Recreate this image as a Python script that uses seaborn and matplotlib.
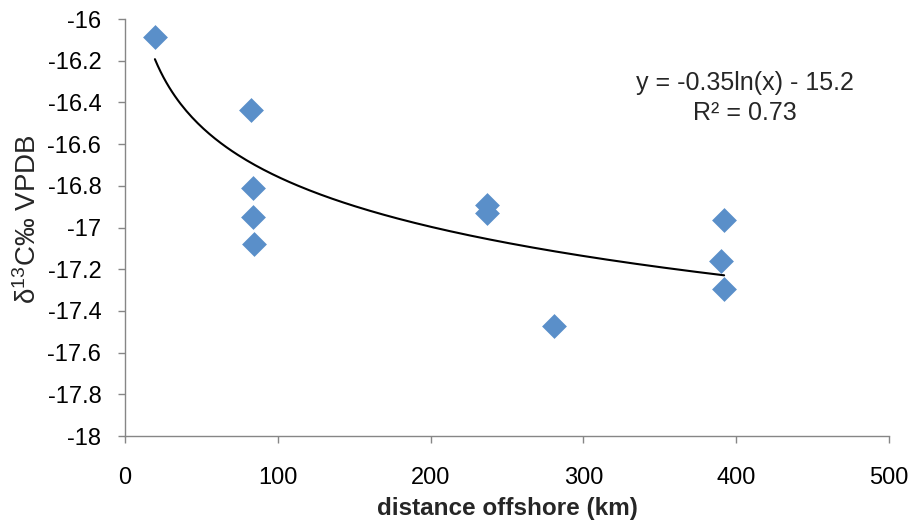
import numpy as np
import pandas as pd
import matplotlib
matplotlib.use("Agg")
import matplotlib.pyplot as plt
import seaborn as sns

# ----------------------------------------------------------------------
# Data
# ----------------------------------------------------------------------
distance_km = [19.6, 82.2, 84.0, 84.0, 84.6, 236.7, 236.7, 281.0, 392.0, 389.8, 392.0]
d13c = [-16.085, -16.436, -16.81, -16.95, -17.08, -16.89, -16.93, -17.472, -16.965, -17.16, -17.294]

# trendline as printed on the chart (Excel log fit)
trend_slope = -0.346
trend_intercept = -15.163
trend_label = "y = -0.35ln(x) - 15.2"
r2_label = "R² = 0.73"

x_ticks = [0, 100, 200, 300, 400, 500]
y_ticks = [-18, -17.8, -17.6, -17.4, -17.2, -17, -16.8, -16.6, -16.4, -16.2, -16]

df = pd.DataFrame({"distance": distance_km, "d13c": d13c})

x_fit = np.linspace(min(distance_km), max(distance_km), 200)
fit_df = pd.DataFrame({"distance": x_fit,
                       "d13c": trend_slope * np.log(x_fit) + trend_intercept})

sns.set_style("white")
plt.rcParams["font.family"] = ["Liberation Sans", "DejaVu Sans"]
plt.rcParams["mathtext.fontset"] = "custom"
plt.rcParams["mathtext.rm"] = "Liberation Sans"
plt.rcParams["mathtext.it"] = "Liberation Sans"

fig = plt.figure(figsize=(9.12, 5.21), dpi=100)
ax = fig.add_axes([0.137, 0.163, 0.838, 0.8005])

sns.lineplot(data=fit_df, x="distance", y="d13c", ax=ax, color="black", linewidth=1.5)
sns.scatterplot(data=df, x="distance", y="d13c", ax=ax, marker="D", s=160,
                color="#5A8FC9", linewidth=0, zorder=3)

ax.set_xlim(0, 500)
ax.set_ylim(-18, -16)
ax.set_xticks(x_ticks)
ax.set_yticks(y_ticks)
ax.set_yticklabels([f"{v:g}" for v in y_ticks])

for side in ["top", "right"]:
    ax.spines[side].set_visible(False)
for side in ["left", "bottom"]:
    ax.spines[side].set_color("#868686")
    ax.spines[side].set_linewidth(1.0)

ax.tick_params(axis="both", which="major", direction="out", length=5, width=1,
               color="#868686", labelcolor="black", bottom=True, left=True)
ax.tick_params(axis="x", pad=17, labelsize=17)
ax.tick_params(axis="y", pad=12, labelsize=17)

ax.set_xlabel("distance offshore (km)", fontsize=17.5, fontweight="bold")
ax.set_ylabel("δ$^{13}$C‰ VPDB", fontsize=20)
ax.xaxis.set_label_coords(0.5, -0.147)
ax.yaxis.set_label_coords(-0.108, 0.52)

ax.text(0.811, 0.846, trend_label, transform=ax.transAxes, ha="center", va="center", fontsize=18)
ax.text(0.811, 0.774, r2_label, transform=ax.transAxes, ha="center", va="center", fontsize=18)

fig.savefig("out.png", dpi=100)
plt.close(fig)
